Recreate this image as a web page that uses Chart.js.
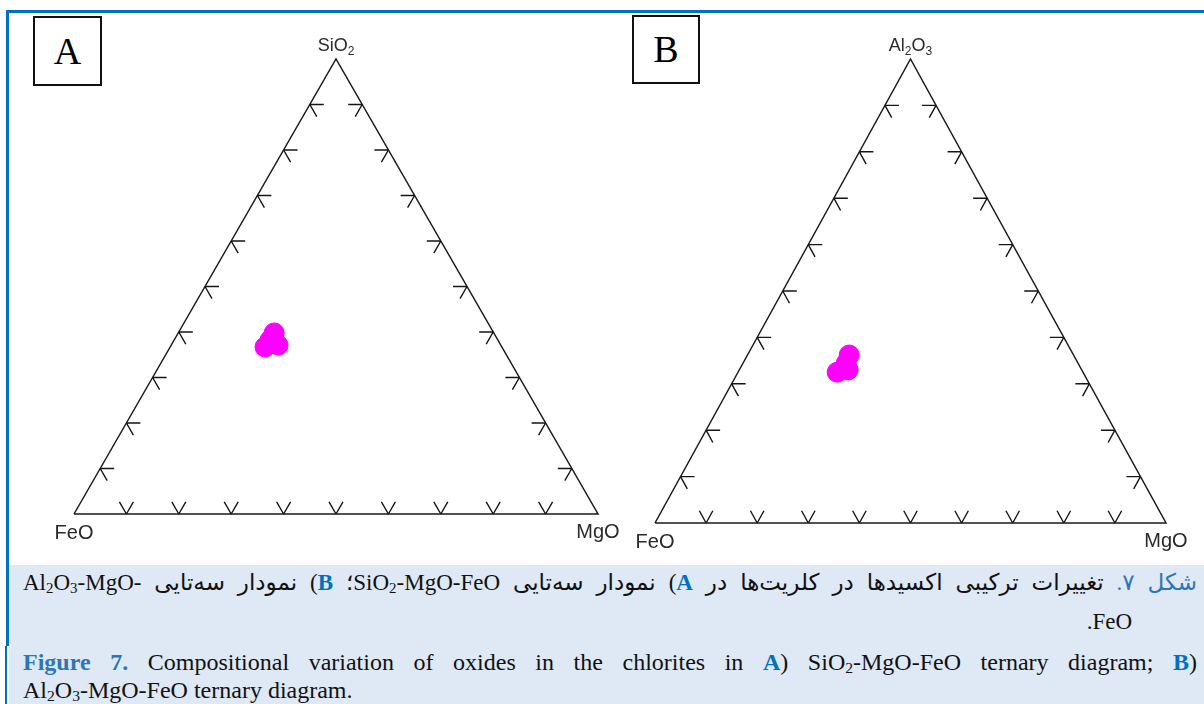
<!DOCTYPE html>
<html>
<head>
<meta charset="utf-8">
<script src="https://cdn.jsdelivr.net/npm/chart.js@4"></script>
<style>
  body { margin: 0; background: #fff; }
  #page { position: relative; width: 1204px; height: 704px; overflow: hidden; background: #fff; }
  .frame-top { position: absolute; left: 6px; top: 10px; width: 1198px; height: 3px; background: #0070c0; }
  .frame-left { position: absolute; left: 6px; top: 10px; width: 3px; height: 636px; background: #0070c0; }
  .frame-left2 { position: absolute; left: 5px; top: 646px; width: 2px; height: 58px; background: #0070c0; }
  .panel { position: absolute; border: 2px solid #111; font-family: "Liberation Serif", serif; font-size: 38px;
           text-align: center; color: #000; box-sizing: border-box; }
  canvas { position: absolute; }
  .caption-bg { position: absolute; left: 9px; top: 565px; width: 1195px; height: 139px; background: #dee9f5; }
  .line { position: absolute; font-family: "Liberation Serif", "DejaVu Sans", serif; color: #111; white-space: nowrap; }
  .just { text-align: justify; text-align-last: justify; }
  .sub { font-size: 0.65em; vertical-align: -0.22em; line-height: 0; }
  .blue { color: #2e75b6; }
  .bb { color: #0070c0; font-weight: bold; }
  .ltr { unicode-bidi: isolate; direction: ltr; }
</style>
</head>
<body>
<div id="page">
  <div class="frame-top"></div>
  <div class="frame-left"></div>
  <div class="frame-left2"></div>

  <div class="panel" style="left:33px;top:16px;width:69px;height:70px;line-height:66px;">A</div>
  <div class="panel" style="left:632px;top:15px;width:68px;height:69px;line-height:65px;">B</div>

  <canvas id="chartA" width="604" height="535" style="left:34px;top:19px;"></canvas>
  <canvas id="chartB" width="591" height="544" style="left:615px;top:19px;"></canvas>

  <div class="caption-bg"></div>
  <div class="line just" dir="rtl" style="left:23px;top:571px;width:1174px;font-size:23px;line-height:23px;"><span class="blue">شکل ۷.</span> تغییرات ترکیبی اکسیدها در کلریت‌ها در <span class="bb">A</span>) نمودار سه‌تایی SiO<span class="sub">2</span>-MgO-FeO؛ <span class="bb">B</span>) نمودار سه‌تایی <span class="ltr">Al<span class="sub">2</span>O<span class="sub">3</span>-MgO-</span></div>
  <div class="line" dir="rtl" style="right:72px;top:610px;font-size:23px;line-height:23px;">FeO.</div>
  <div class="line just" style="left:23px;top:650px;width:1174px;font-size:24px;line-height:24px;"><span class="blue" style="font-weight:bold;">Figure 7.</span> Compositional variation of oxides in the chlorites in <span class="bb">A</span>) SiO<span class="sub">2</span>-MgO-FeO ternary diagram; <span class="bb">B</span>)</div>
  <div class="line" style="left:23px;top:678px;font-size:24px;line-height:24px;">Al<span class="sub">2</span>O<span class="sub">3</span>-MgO-FeO ternary diagram.</div>
</div>

<script>
// tick marks every 10 %
var tickSteps = [10, 20, 30, 40, 50, 60, 70, 80, 90];

// A: SiO2 - MgO - FeO (wt. %, normalised)
var namesA = ['SiO2', 'FeO', 'MgO'];
var sio2A = [39.8, 36.7, 37.1, 38.2];
var mgoA  = [18.3, 18.1, 20.4, 18.3];
var feoA  = [41.9, 45.2, 42.5, 43.5];

// B: Al2O3 - MgO - FeO
var namesB = ['Al2O3', 'FeO', 'MgO'];
var al2o3B = [36.2, 32.5, 33.0, 34.4];
var mgoB   = [19.9, 19.4, 21.3, 20.2];
var feoB   = [43.9, 48.1, 45.7, 45.4];

// ternary -> cartesian (FeO left, MgO right, apex on top)
function toXY(top, right, left) {
    var s = top + right + left;
    var y = top / s;
    return { x: right / s + y / 2, y: y };
}

function drawChem(ctx, label, cx, base, size) {
    var parts = label.match(/[A-Za-z]+|[0-9]+/g);
    var sub = Math.round(size * 0.68);
    var w = 0;
    parts.forEach(function (p) {
        ctx.font = (/\d/.test(p) ? sub : size) + 'px "Liberation Sans"';
        w += ctx.measureText(p).width;
    });
    var x = cx - w / 2;
    parts.forEach(function (p) {
        var isSub = /\d/.test(p);
        ctx.font = (isSub ? sub : size) + 'px "Liberation Sans"';
        ctx.fillText(p, x, isSub ? base + size * 0.22 : base);
        x += ctx.measureText(p).width;
    });
}

var ternaryFrame = {
    id: 'ternaryFrame',
    afterDatasetsDraw: function (chart) {
        var ctx = chart.ctx;
        var xs = chart.scales.x, ys = chart.scales.y;
        function px(p) { return { x: xs.getPixelForValue(p.x), y: ys.getPixelForValue(p.y) }; }
        function unit(a, b) {
            var dx = b.x - a.x, dy = b.y - a.y, l = Math.sqrt(dx * dx + dy * dy);
            return { x: dx / l, y: dy / l };
        }
        var T = px(toXY(100, 0, 0)), L = px(toXY(0, 0, 100)), R = px(toXY(0, 100, 0));
        var len = 14;
        ctx.save();
        ctx.strokeStyle = '#151515';
        ctx.lineWidth = 1.4;
        function tick(p, d1, d2) {
            ctx.beginPath();
            ctx.moveTo(p.x, p.y); ctx.lineTo(p.x + d1.x * len, p.y + d1.y * len);
            ctx.moveTo(p.x, p.y); ctx.lineTo(p.x + d2.x * len, p.y + d2.y * len);
            ctx.stroke();
        }
        tickSteps.forEach(function (t) {
            tick(px(toXY(t, 0, 100 - t)), unit(L, R), unit(T, R));
            tick(px(toXY(t, 100 - t, 0)), unit(R, L), unit(T, L));
            tick(px(toXY(0, t, 100 - t)), unit(R, T), unit(L, T));
        });
        var names = chart.options.plugins.ternaryFrame.names;
        ctx.fillStyle = '#2a2a2a';
        ctx.textBaseline = 'alphabetic';
        drawChem(ctx, names[0], T.x, T.y - 8, 18);
        drawChem(ctx, names[1], L.x, L.y + 25, 20);
        drawChem(ctx, names[2], R.x, R.y + 24, 20);
        ctx.restore();
    }
};

function makeTernary(id, names, top, right, left) {
    var corners = [toXY(0, 0, 100), toXY(0, 100, 0), toXY(100, 0, 0), toXY(0, 0, 100)];
    var pts = top.map(function (t, i) { return toXY(t, right[i], left[i]); });
    return new Chart(document.getElementById(id).getContext('2d'), {
        type: 'scatter',
        data: {
            datasets: [{
                type: 'line',
                data: corners,
                borderColor: '#1a1a1a',
                borderWidth: 1.5,
                pointRadius: 0,
                fill: false,
                tension: 0,
                clip: false
            }, {
                data: pts,
                backgroundColor: '#ff00ff',
                borderColor: '#ff00ff',
                borderWidth: 1,
                pointRadius: 10,
                clip: false
            }]
        },
        options: {
            responsive: false,
            animation: false,
            layout: { padding: 40 },
            scales: {
                x: { type: 'linear', min: 0, max: 1, display: false },
                y: { type: 'linear', min: 0, max: 1, display: false }
            },
            plugins: {
                legend: { display: false },
                tooltip: { enabled: false },
                ternaryFrame: { names: names }
            }
        },
        plugins: [ternaryFrame]
    });
}

makeTernary('chartA', namesA, sio2A, mgoA, feoA);
makeTernary('chartB', namesB, al2o3B, mgoB, feoB);
</script>
</body>
</html>
